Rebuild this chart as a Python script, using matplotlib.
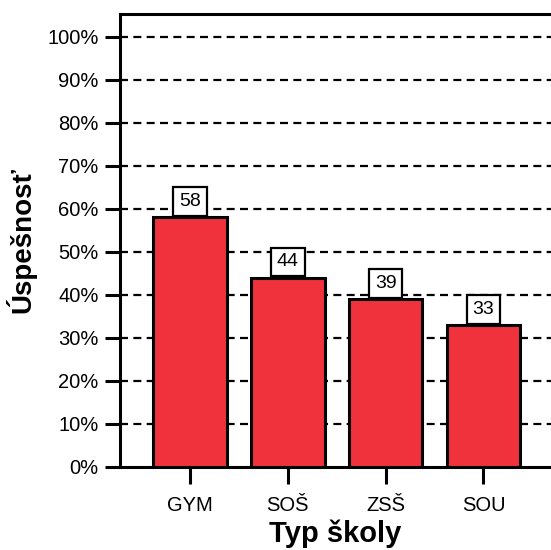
import matplotlib.pyplot as plt
import numpy as np

plt.rcParams["font.family"] = ["Liberation Sans", "DejaVu Sans"]

categories = ["GYM", "SOŠ", "ZSŠ", "SOU"]
values = [58, 44, 39, 33]
yticks = [0, 10, 20, 30, 40, 50, 60, 70, 80, 90, 100]

fig = plt.figure(figsize=(5.51, 5.50), dpi=100)
ax = fig.add_axes([0.217, 0.151, 0.783, 0.8235])

x = np.arange(len(categories))
ax.bar(x, values, width=0.75, color="#EF323C", edgecolor="black", linewidth=2.2, zorder=3)

for xi, v in zip(x, values):
    ax.annotate(str(v), (xi, v), xytext=(0, 5.2), textcoords="offset points",
                ha="center", va="bottom", fontsize=14, zorder=4,
                bbox=dict(boxstyle="square,pad=0.3", fc="white", ec="black", lw=1.6))

for t in yticks[1:]:
    ax.axhline(t, color="black", lw=1.6, dashes=(3.6, 2.4), zorder=1)

ax.set_xlim(-0.72, 3.69)
ax.set_ylim(0, 105.3)
ax.set_yticks(yticks)
ax.set_yticklabels([f"{t}%" for t in yticks])
ax.set_xticks(x)
ax.set_xticklabels(categories)

for side in ["left", "bottom", "top"]:
    ax.spines[side].set_linewidth(2.2)
ax.spines["right"].set_visible(False)

ax.tick_params(axis="y", length=11, width=2.2, labelsize=14.5, pad=4)
ax.tick_params(axis="x", length=12, width=2.2, labelsize=14.5, pad=9)

ax.set_xlabel("Typ školy", fontsize=21, fontweight="bold", labelpad=3)
ax.set_ylabel("Úspešnosť", fontsize=20, fontweight="bold", labelpad=8)

fig.savefig("out.png", dpi=100)
